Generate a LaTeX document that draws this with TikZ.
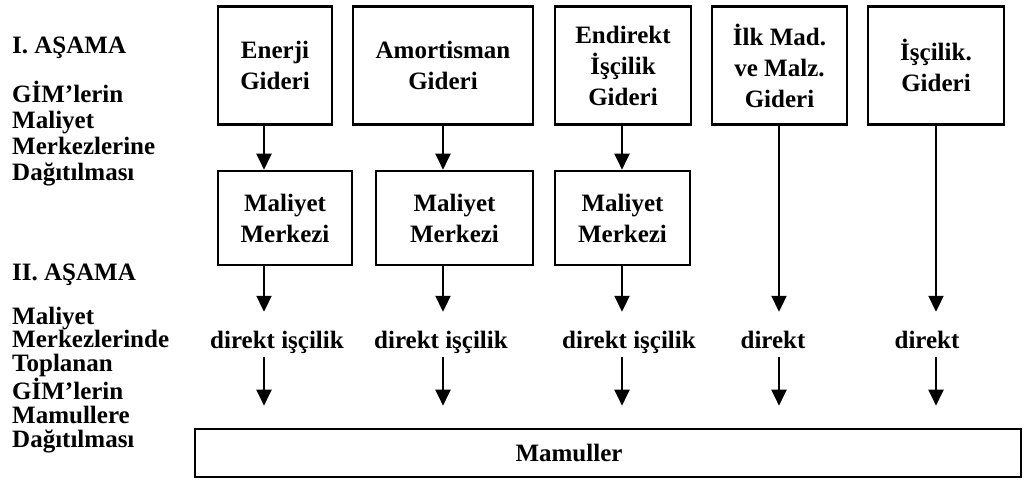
\documentclass[tikz,border=0pt]{standalone}
\usepackage{fontspec}
\setmainfont{Liberation Serif}
\usetikzlibrary{arrows.meta, positioning}

\begin{document}
\begin{tikzpicture}[x=1pt, y=-1pt]
  \tikzset{
    gider box/.style={draw, line width=2.6pt, align=center, inner sep=2pt,
        font=\fontsize{25}{31}\selectfont\bfseries},
    ust box/.style={gider box, minimum height=118pt},
    merkez box/.style={gider box, minimum height=94pt},
    stage text/.style={align=left, anchor=base west, inner sep=0pt,
        font=\fontsize{25}{25}\selectfont\bfseries},
    flow text/.style={anchor=base, inner sep=0pt, text height=36pt, text depth=9pt,
        font=\fontsize{25}{25}\selectfont\bfseries},
    flow/.style={line width=2pt, -{Triangle[width=15pt,length=16pt]}}
  }
  \useasboundingbox (0,0) rectangle (1027,480);

  % asamalar (son satirin tabanina gore)
  \node[stage text] (asama1) at (12,53) {I. AŞAMA};
  \node[stage text, font=\fontsize{25}{25.8}\selectfont\bfseries] (dagitim1) at (12,180)
      {GİM’lerin\\Maliyet\\Merkezlerine\\Dağıtılması};
  \node[stage text] (asama2) at (12,280) {II. AŞAMA};
  \node[stage text, font=\fontsize{25}{23.8}\selectfont\bfseries] (dagitim2) at (12,447)
      {Maliyet\\Merkezlerinde\\Toplanan\\GİM’lerin\\Mamullere\\Dağıtılması};

  % giderler
  \node[ust box, minimum width=114pt] (enerji) at (275,65.5) {Enerji\\Gideri};
  \node[ust box, minimum width=180pt] (amort) at (443,65.5) {Amortisman\\Gideri};
  \node[ust box, minimum width=136pt] (endirekt) at (623,65.5) {Endirekt\\İşçilik\\Gideri};
  \node[ust box, minimum width=135pt] (ilkmad) at (779.5,65.5) {İlk Mad.\\ve Malz.\\Gideri};
  \node[ust box, minimum width=136pt] (iscilik) at (936,65.5) {İşçilik.\\Gideri};

  % maliyet merkezleri
  \node[merkez box, minimum width=134pt] (merkez1) at (285,218) {Maliyet\\Merkezi};
  \node[merkez box, minimum width=157pt] (merkez2) at (454.5,218) {Maliyet\\Merkezi};
  \node[merkez box, minimum width=135pt] (merkez3) at (622.5,218) {Maliyet\\Merkezi};

  % direkt / direkt iscilik
  \node[flow text] (direkt1) at (277,348) {direkt işçilik};
  \node[flow text] (direkt2) at (441,348) {direkt işçilik};
  \node[flow text] (direkt3) at (629,348) {direkt işçilik};
  \node[flow text] (direkt4) at (773,348) {direkt};
  \node[flow text] (direkt5) at (927,348) {direkt};

  \node[draw, line width=2.6pt, minimum width=826pt, minimum height=48pt,
      label={[font=\fontsize{25}{25}\selectfont\bfseries, xshift=-39pt]center:Mamuller}]
      (mamul) at (608,453) {};

  % ok kolonlari
  \coordinate (kol1) at (264,0);
  \coordinate (kol2) at (443,0);
  \coordinate (kol3) at (622,0);
  \coordinate (kol4) at (779,0);
  \coordinate (kol5) at (936,0);

  \draw[flow] (enerji.south -| kol1) -- (merkez1.north -| kol1);
  \draw[flow] (amort.south -| kol2) -- (merkez2.north -| kol2);
  \draw[flow] (endirekt.south -| kol3) -- (merkez3.north -| kol3);

  \draw[flow] (merkez1.south -| kol1) -- (direkt1.north -| kol1);
  \draw[flow] (merkez2.south -| kol2) -- (direkt2.north -| kol2);
  \draw[flow] (merkez3.south -| kol3) -- (direkt3.north -| kol3);
  \draw[flow] (ilkmad.south -| kol4) -- (direkt4.north -| kol4);
  \draw[flow] (iscilik.south -| kol5) -- (direkt5.north -| kol5);

  \foreach \i in {1,...,5}
    \draw[flow, shorten >=22pt] (direkt\i.south -| kol\i) -- (mamul.north -| kol\i);
\end{tikzpicture}
\end{document}
